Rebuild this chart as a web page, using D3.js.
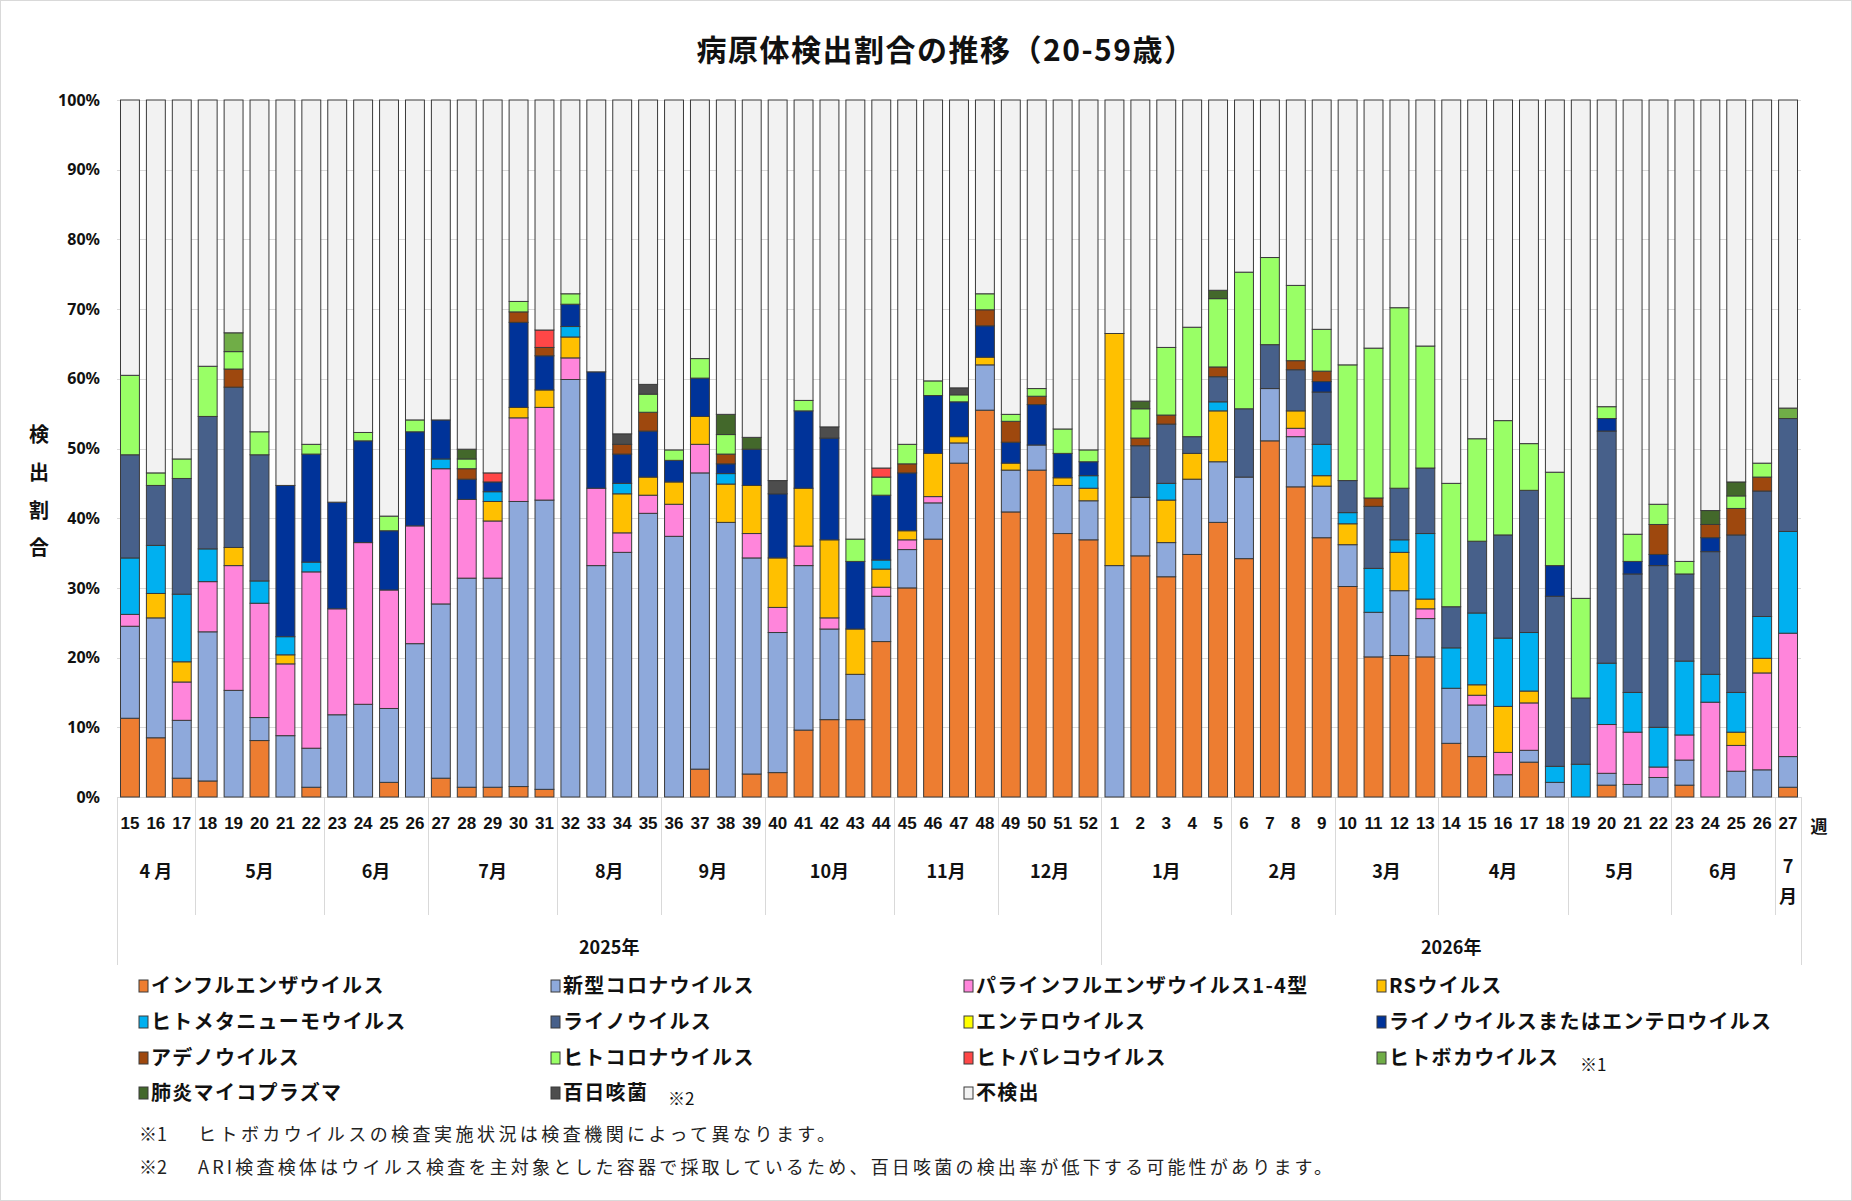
<!DOCTYPE html>
<html><head><meta charset="utf-8">
<script src="https://cdn.jsdelivr.net/npm/d3@7"></script>
<style>
html,body{margin:0;padding:0;background:#fff;}
svg{display:block;font-family:"Noto Sans CJK JP","Noto Sans",sans-serif;}
</style></head><body>
<svg id="chart" width="1852" height="1201"></svg>
<script>
// ---------- DATA ----------
const weeks = [15,16,17,18,19,20,21,22,23,24,25,26,27,28,29,30,31,32,33,34,35,36,37,38,39,40,41,42,43,44,45,46,47,48,49,50,51,52,
  1,2,3,4,5,6,7,8,9,10,11,12,13,14,15,16,17,18,19,20,21,22,23,24,25,26,27];
const monthLabels = ["4 月","5月","6月","7月","8月","9月","10月","11月","12月","1月","2月","3月","4月","5月","6月","7月"];
const monthCounts = [3,5,4,5,4,4,5,4,4,5,4,4,5,4,4,1];
const yearLabels = ["2025年","2026年"];
const yearCounts = [38,27];
const yTicks = [0,0.1,0.2,0.3,0.4,0.5,0.6,0.7,0.8,0.9,1.0];

const seriesNames = ["インフルエンザウイルス","新型コロナウイルス","パラインフルエンザウイルス1-4型","RSウイルス",
  "ヒトメタニューモウイルス","ライノウイルス","エンテロウイルス","ライノウイルスまたはエンテロウイルス",
  "アデノウイルス","ヒトコロナウイルス","ヒトパレコウイルス","ヒトボカウイルス",
  "肺炎マイコプラズマ","百日咳菌","不検出"];
const seriesColors = ["#ED7D31","#8EA9DB","#FF85DB","#FFC000","#00B0F0","#47608A","#FFFF00","#003399",
  "#9E480E","#99FF66","#FF4747","#70AD47","#43682B","#4D4D4D","#F2F2F2"];

const flu = [11.3,8.5,2.7,2.3,0, 8.1,0,1.4,0,0, 2.1,0,2.7,1.4,1.4, 1.5,1.1,0,0,0, 0,0,4.0,0,3.3, 3.5,9.6,11.1,11.1,22.3, 30.0,37.0,47.9,55.5,40.9, 46.9,37.8,36.9,
  0,34.6,31.6,34.8,39.4, 34.2,51.1,44.5,37.2,30.2, 20.1,20.3,20.1,7.7,5.8, 0,5.0,0,0,1.7, 0,0,1.7,0,0, 0,1.4];
const covid = [13.2,17.2,8.3,21.4,15.3, 3.3,8.8,5.6,11.8,13.3, 10.6,22.0,25.0,30.0,30.0, 40.9,41.5,59.9,33.2,35.1, 40.7,37.4,42.5,39.4,31.0, 20.1,23.6,13.0,6.5,6.5, 5.5,5.2,2.9,6.5,6.0, 3.6,6.9,5.6,
  33.2,8.4,4.9,10.8,8.7, 11.7,7.5,7.2,7.4,6.0, 6.4,9.3,5.5,7.9,7.4, 3.2,1.7,2.1,0,1.7, 1.8,2.8,3.6,0,3.7, 3.9,4.4];
const para = [1.7,0,5.5,7.2,17.9, 16.4,10.3,25.3,15.2,23.2, 17.0,16.9,19.4,11.3,8.2, 12.0,13.3,3.1,11.1,2.8, 2.6,4.6,4.1,0,3.5, 3.6,2.8,1.6,0,1.3, 1.4,0.9,0,0,0, 0,0,0,
  0,0,0,0,0, 0,0,1.2,0,0, 0,0,1.4,0,1.4, 3.2,6.8,0,0,7.0, 7.5,1.5,3.6,13.6,3.7, 13.9,17.7];
const rsv = [0,3.5,2.9,0,2.6, 0,1.3,0,0,0, 0,0,0,0,2.8, 1.5,2.5,3.0,0,5.6, 2.6,3.2,4.0,5.5,6.9, 7.1,8.3,11.2,6.5,2.6, 1.3,6.2,0.9,1.1,1.0, 0,1.1,1.8,
  33.3,0,6.1,3.7,7.3, 0,0,2.5,1.5,3.0, 0,5.5,1.4,0,1.5, 6.6,1.7,0,0,0, 0,0,0,0,1.9, 2.1,0];
const hmpv = [8.1,6.9,9.7,4.7,0, 3.2,2.6,1.4,0,0, 0,0,1.4,0,1.4, 0,0,1.5,0,1.5, 0,0,0,1.5,0, 0,0,0,0,1.3, 0,0,0,0,0, 0,0,1.8,
  0,0,2.4,0,1.3, 0,0,0,4.5,1.6, 6.3,1.8,9.4,5.8,10.3, 9.8,8.4,2.3,4.7,8.8, 5.7,5.7,10.6,4.0,5.7, 6.0,14.6];
const rhino = [14.8,8.6,16.6,19.0,23.0, 18.1,0,0,0,0, 0,0,0,0,0, 0,0,0,0,0, 0,0,0,0,0, 0,0,0,0,0, 0,0,0,0,0, 0,0,0,
  0,7.4,8.5,2.4,3.6, 9.8,6.3,5.9,7.5,4.6, 8.9,7.4,9.4,5.9,10.3, 14.8,20.4,24.4,9.5,33.3, 17.0,23.2,12.5,17.6,22.6, 18.0,16.2];
const entero = [0,0,0,0,0, 0,0,0,0,0, 0,0,0,0,0, 0,0,0,0,0, 0,0,0,0,0, 0,0,0,0,0, 0,0,0,0,0, 0,0,0,
  0,0,0,0,0, 0,0,0,0,0, 0,0,0,0,0, 0,0,0,0,0, 0,0,0,0,0, 0,0];
const rhinoEntero = [0,0,0,0,0, 0,21.7,15.5,15.3,14.6, 8.5,13.5,5.6,2.9,1.4, 12.2,4.9,3.2,16.7,4.2, 6.6,3.1,5.5,1.4,5.2, 9.2,11.1,14.6,9.7,9.3, 8.3,8.3,5.0,4.5,3.0, 5.8,3.5,2.0,
  0,0,0,0,0, 0,0,0,1.5,0, 0,0,0,0,0, 0,0,4.4,0,1.8, 1.8,1.6,0,2.0,0, 0,0];
const adeno = [0,0,0,0,2.6, 0,0,0,0,0, 0,0,0,1.5,0, 1.5,1.2,0,0,1.4, 2.7,0,0,1.4,0, 0,0,0,0,0, 1.3,0,0,2.3,3.0, 1.2,0,0,
  0,1.1,1.3,0,1.4, 0,0,1.3,1.5,0, 1.2,0,0,0,0, 0,0,0,0,0, 0,4.3,0,1.9,3.8, 2.0,0];
const hcov = [11.4,1.8,2.8,7.2,2.5, 3.3,0,1.4,0,1.2, 2.1,1.7,0,1.4,0, 1.5,0,1.5,0,0, 2.6,1.5,2.8,2.8,0, 0,1.5,0,3.2,2.6, 2.8,2.1,1.0,2.3,1.0, 1.1,3.5,1.7,
  0,4.2,9.7,15.7,9.8, 19.6,12.5,10.8,6.0,16.6, 21.5,25.9,17.5,17.7,14.7, 16.4,6.7,13.4,14.3,1.7, 3.9,2.9,1.8,0,1.8, 2.0,0];
const parecho = [0,0,0,0,0, 0,0,0,0,0, 0,0,0,0,1.3, 0,2.5,0,0,0, 0,0,0,0,0, 0,0,0,0,1.3, 0,0,0,0,0, 0,0,0,
  0,0,0,0,0, 0,0,0,0,0, 0,0,0,0,0, 0,0,0,0,0, 0,0,0,0,0, 0,0];
const boca = [0,0,0,0,2.7, 0,0,0,0,0, 0,0,0,0,0, 0,0,0,0,0, 0,0,0,0,0, 0,0,0,0,0, 0,0,0,0,0, 0,0,0,
  0,0,0,0,0, 0,0,0,0,0, 0,0,0,0,0, 0,0,0,0,0, 0,0,0,0,0, 0,1.5];
const myco = [0,0,0,0,0, 0,0,0,0,0, 0,0,0,1.4,0, 0,0,0,0,0, 0,0,0,2.9,1.7, 0,0,0,0,0, 0,0,0,0,0, 0,0,0,
  0,1.1,0,0,1.2, 0,0,0,0,0, 0,0,0,0,0, 0,0,0,0,0, 0,0,0,2.0,2.0, 0,0];
const pertussis = [0,0,0,0,0, 0,0,0,0,0, 0,0,0,0,0, 0,0,0,0,1.5, 1.4,0,0,0,0, 1.9,0,1.6,0,0, 0,0,1.0,0,0, 0,0,0,
  0,0,0,0,0, 0,0,0,0,0, 0,0,0,0,0, 0,0,0,0,0, 0,0,0,0,0, 0,0];
const notDetected = [39.5,53.5,51.5,38.2,33.4, 47.6,55.3,49.4,57.7,47.7, 59.7,45.9,45.9,50.1,53.5, 28.9,33.0,27.8,39.0,47.9, 40.8,50.2,37.1,45.1,48.4, 54.6,43.1,46.9,63.0,52.8, 49.4,40.3,41.3,27.8,45.1, 41.4,47.2,50.2,
  33.5,43.2,35.5,32.6,27.3, 24.7,22.6,26.6,32.9,38.0, 35.6,29.8,35.3,55.0,48.6, 46.0,49.3,53.4,71.5,44.0, 62.3,58.0,66.2,58.9,54.8, 52.1,44.2];

const seriesValues = [flu,covid,para,rsv,hmpv,rhino,entero,rhinoEntero,adeno,hcov,parecho,boca,myco,pertussis,notDetected];

// ---------- CHART ----------
const W = 1852, H = 1201;
const svg = d3.select("#chart");
svg.append("rect").attr("x",0.5).attr("y",0.5).attr("width",W-1).attr("height",H-1)
  .attr("fill","#fff").attr("stroke","#d9d9d9");

const plotL = 117, plotR = 1801, plotT = 100, plotB = 797;
const idx = d3.range(weeks.length);
const x = d3.scaleBand().domain(idx).range([plotL, plotR]).paddingInner(0.27).paddingOuter(0.135);
const y = d3.scaleLinear().domain([0,1]).range([plotB, plotT]);
const edge = i => plotL + i * x.step();

// title
svg.append("text").attr("x", 946).attr("y", 61).attr("text-anchor","middle")
  .attr("font-size", 30).attr("font-weight","bold").attr("letter-spacing", 1.5).attr("fill","#111")
  .text("病原体検出割合の推移（20-59歳）");

// gridlines
svg.append("g").selectAll("line").data(yTicks).join("line")
  .attr("x1", plotL).attr("x2", plotR)
  .attr("y1", d => Math.round(y(d))+0.5).attr("y2", d => Math.round(y(d))+0.5)
  .attr("stroke","#d9d9d9").attr("stroke-width",1);

// y axis
const yAxis = svg.append("g").attr("transform",`translate(${plotL},0)`)
  .call(d3.axisLeft(y).tickValues(yTicks).tickFormat(d3.format(".0%")).tickSize(0).tickPadding(17));
yAxis.select(".domain").remove();
yAxis.selectAll("text").attr("font-size",16).attr("font-weight","bold").attr("fill","#111")
  .attr("font-family","'Noto Sans','Noto Sans CJK JP',sans-serif");

// y title (vertical)
const yTitle = "検出割合".split("");
svg.append("g").selectAll("text").data(yTitle).join("text")
  .attr("x", 39).attr("y", (d,i) => 442 + i*37.8).attr("text-anchor","middle")
  .attr("font-size", 20).attr("font-weight","bold").attr("fill","#111").text(d => d);

// stack
const rows = idx.map(i => {
  const r = {i};
  seriesValues.forEach((s,k) => r["s"+k] = s[i]);
  return r;
});
const keys = seriesValues.map((s,k) => "s"+k);
const stacked = d3.stack().keys(keys).offset(d3.stackOffsetExpand)(rows);

svg.append("g").selectAll("g").data(stacked).join("g")
  .attr("fill", (d,k) => seriesColors[k])
  .selectAll("rect").data(d => d.filter(p => p[1] - p[0] > 0)).join("rect")
  .attr("x", p => x(p.data.i))
  .attr("width", x.bandwidth())
  .attr("y", p => y(p[1]))
  .attr("height", p => y(p[0]) - y(p[1]))
  .attr("stroke", "#3a3a3a").attr("stroke-width", 1);

// x axis: week labels
const xAxis = svg.append("g").attr("transform",`translate(0,${plotB})`)
  .call(d3.axisBottom(x).tickFormat(i => weeks[i]).tickSize(0).tickPadding(20));
xAxis.select(".domain").remove();
xAxis.selectAll("text").attr("font-size",17).attr("font-weight","bold").attr("fill","#111");

svg.append("text").attr("x", 1819).attr("y", 833).attr("text-anchor","middle")
  .attr("font-size",17).attr("font-weight","bold").attr("fill","#111").text("週");

// category separator lines
const monthBottom = 915, yearBottom = 965;
const sep = svg.append("g").attr("stroke","#d9d9d9").attr("stroke-width",1);
let cum = 0;
const monthStarts = monthCounts.map(c => { const s = cum; cum += c; return s; });
cum = 0;
const yearStarts = yearCounts.map(c => { const s = cum; cum += c; return s; });
const yearEdges = yearStarts.concat([weeks.length]);
monthStarts.forEach(s => {
  if (!yearEdges.includes(s)) {
    sep.append("line").attr("x1", Math.round(edge(s))+0.5).attr("x2", Math.round(edge(s))+0.5)
      .attr("y1", plotB).attr("y2", monthBottom);
  }
});
yearEdges.forEach(s => {
  sep.append("line").attr("x1", Math.round(edge(s))+0.5).attr("x2", Math.round(edge(s))+0.5)
    .attr("y1", plotB).attr("y2", yearBottom);
});

// month labels
const mg = svg.append("g").attr("font-size",18).attr("font-weight","bold").attr("fill","#111").attr("text-anchor","middle");
monthLabels.forEach((m,k) => {
  const s = monthStarts[k], c = monthCounts[k];
  const cx = (edge(s) + edge(s+c)) / 2;
  if (c === 1) {
    const t = mg.append("text").attr("x", cx).attr("y", 873);
    t.append("tspan").attr("x", cx).attr("dy", 0).text(m.replace("月",""));
    t.append("tspan").attr("x", cx).attr("dy", 30).text("月");
  } else {
    mg.append("text").attr("x", cx).attr("y", 878).text(m);
  }
});

// year labels
yearLabels.forEach((yl,k) => {
  const s = yearStarts[k], c = yearCounts[k];
  svg.append("text").attr("x", (edge(s)+edge(s+c))/2).attr("y", 954).attr("text-anchor","middle")
    .attr("font-size",18).attr("font-weight","bold").attr("fill","#111").text(yl);
});

// legend
const colX = [139, 551, 964, 1377];
const rowY = [986, 1022, 1058, 1093];
const lg = svg.append("g");
seriesNames.forEach((name,k) => {
  const cx = colX[k % 4], cy = rowY[Math.floor(k/4)];
  lg.append("rect").attr("x", cx).attr("y", cy-6).attr("width", 9).attr("height", 12)
    .attr("fill", seriesColors[k]).attr("stroke","#3a3a3a").attr("stroke-width",1);
  const t = lg.append("text").attr("x", cx+12).attr("y", cy+7).attr("font-size",20).attr("font-weight","bold")
    .attr("letter-spacing",1.3).attr("fill","#111").text(name);
});
lg.append("text").attr("x", 1580).attr("y", 1071).attr("font-size",17).attr("fill","#111").text("※1");
lg.append("text").attr("x", 668).attr("y", 1105).attr("font-size",17).attr("fill","#111").text("※2");

// footnotes
const notes = [
  ["※1","ヒトボカウイルスの検査実施状況は検査機関によって異なります。", 637],
  ["※2","ARI検査検体はウイルス検査を主対象とした容器で採取しているため、百日咳菌の検出率が低下する可能性があります。", 1134]
];
notes.forEach((n,k) => {
  const yy = 1141 + k*33;
  svg.append("text").attr("x",139).attr("y",yy).attr("font-size",18).attr("fill","#222").text(n[0]);
  svg.append("text").attr("x",198).attr("y",yy).attr("font-size",18).attr("fill","#222")
    .attr("textLength", n[2]).attr("lengthAdjust","spacing").text(n[1]);
});
</script>
</body></html>
